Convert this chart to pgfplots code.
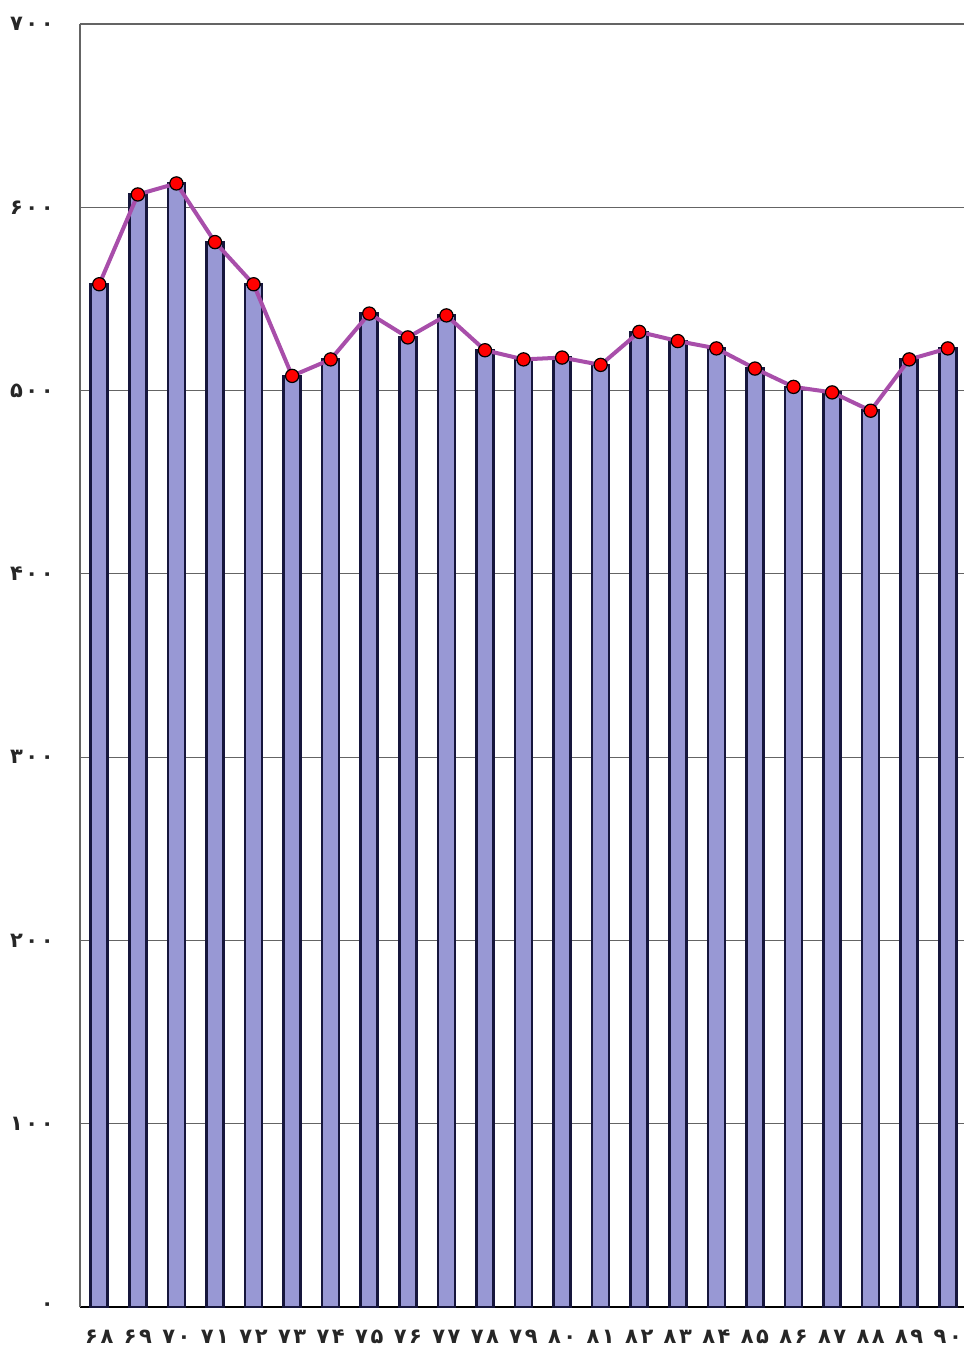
\documentclass[border=0pt]{standalone}
\usepackage{fontspec}
\setmainfont{DejaVu Sans}
\usepackage{pgfplots}
\pgfplotsset{compat=1.18}
\definecolor{barfill}{RGB}{152,152,212}
\definecolor{baredge}{RGB}{22,22,60}
\definecolor{linecol}{RGB}{168,78,170}
\definecolor{gridcol}{RGB}{100,100,100}
\begin{document}
\begin{tikzpicture}
\begin{axis}[
    scale only axis,
    width=442pt, height=641.5pt,
    xmin=67.5, xmax=90.42,
    ymin=0, ymax=700,
    axis x line*=bottom,
    axis y line*=left,
    x axis line style={black, line width=0.8pt},
    y axis line style={gridcol, line width=0.6pt},
    xtick={68,...,90},
    xticklabels={۶۸,۶۹,۷۰,۷۱,۷۲,۷۳,۷۴,۷۵,۷۶,۷۷,۷۸,۷۹,۸۰,۸۱,۸۲,۸۳,۸۴,۸۵,۸۶,۸۷,۸۸,۸۹,۹۰},
    ytick={0,100,...,700},
    yticklabels={۰,۱۰۰,۲۰۰,۳۰۰,۴۰۰,۵۰۰,۶۰۰,۷۰۰},
    major tick length=0pt,
    ymajorgrids,
    grid style={gridcol, line width=0.55pt},
    tick label style={font=\fontsize{10.5}{13}\selectfont\bfseries\addfontfeature{LetterSpace=12}, text=black!85},
    xticklabel style={anchor=base, inner sep=0pt, yshift=-18pt},
    yticklabel style={anchor=east, inner sep=0pt, xshift=-13pt},
    clip=false,
]
\addplot[ybar, bar width=8.5pt, fill=barfill, draw=baredge, line width=1.3pt]
coordinates {
(68,558) (69,607) (70,613) (71,581) (72,558) (73,508) (74,517) (75,542)
(76,529) (77,541) (78,522) (79,517) (80,518) (81,514) (82,532) (83,527)
(84,523) (85,512) (86,502) (87,499) (88,489) (89,517) (90,523)
};
\addplot[linecol, line width=2pt, mark=*, mark size=3.3pt,
    mark options={fill=red, draw=black, line width=0.6pt}]
coordinates {
(68,558) (69,607) (70,613) (71,581) (72,558) (73,508) (74,517) (75,542)
(76,529) (77,541) (78,522) (79,517) (80,518) (81,514) (82,532) (83,527)
(84,523) (85,512) (86,502) (87,499) (88,489) (89,517) (90,523)
};
\coordinate (bl) at (rel axis cs:0,0);
\coordinate (tr) at (rel axis cs:1,1);
\end{axis}
\pgfresetboundingbox
\path ([shift={(-40pt,-20.5pt)}]bl) rectangle ([shift={(0pt,12pt)}]tr);
\end{tikzpicture}
\end{document}
